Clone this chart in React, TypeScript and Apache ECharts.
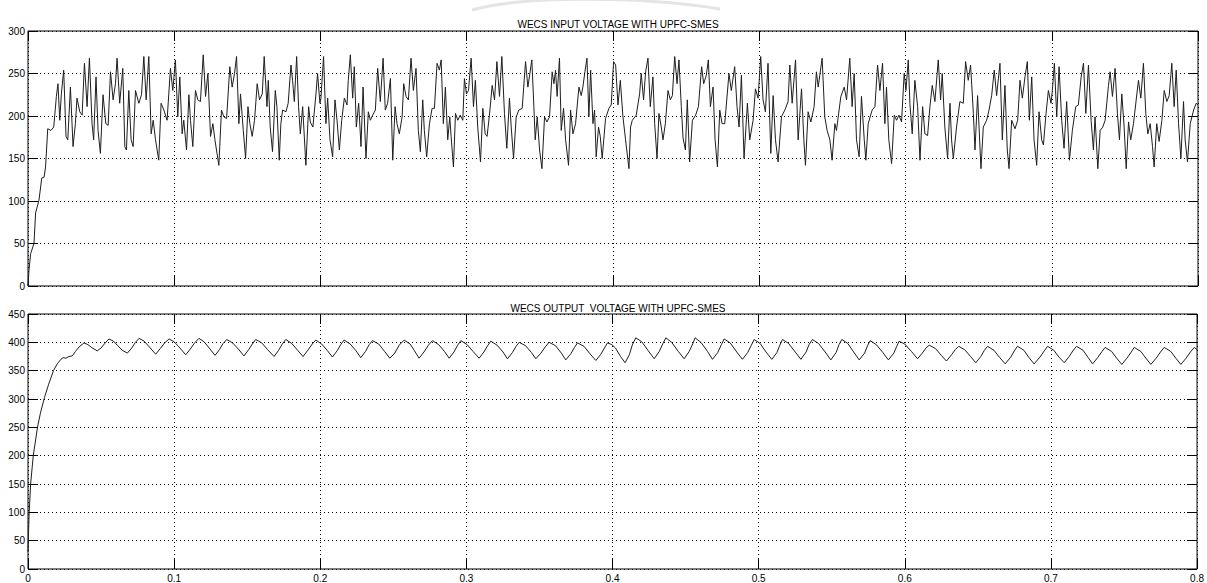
import React, { useEffect, useRef } from "react";
import * as echarts from "echarts";

// WECS input voltage: [time (ms), voltage]
const inputSamples: [number, number][] = [
  [0,0],[0.7,19],[1.8,38],[4.1,50],[5.2,86],[7.5,101],[9.4,127],[11.0,128],[12.0,140],[13.5,185],[15.7,183],[17.6,187],[19.4,223],[20.5,238],[21.7,195],[22.8,226],[24.4,254],[26.0,176],[27.2,172],[29.0,234],[30.8,164],[32.4,191],[33.5,221],[35.4,205],[37.0,201],[38.6,262],[40.4,211],[42.0,268],[43.8,191],[44.9,172],[46.5,246],[47.9,183],[49.5,156],[51.3,225],[53.2,191],[54.8,189],[56.4,252],[58.2,219],[59.8,238],[60.9,268],[62.7,215],[64.8,256],[66.2,164],[67.3,160],[68.9,230],[70.5,172],[71.9,164],[73.5,230],[75.8,215],[77.6,225],[79.2,270],[80.8,219],[82.6,270],[84.2,179],[85.6,195],[87.2,172],[89.4,148],[91.0,215],[92.9,207],[95.1,195],[97.4,256],[99.0,230],[100.8,266],[102.4,199],[103.8,246],[105.4,179],[106.5,195],[108.4,160],[110.0,225],[111.1,195],[112.7,164],[114.5,230],[116.1,219],[117.9,217],[119.8,272],[121.4,223],[123.0,250],[124.8,176],[126.4,191],[127.8,172],[130.5,142],[132.3,207],[133.9,199],[135.8,197],[138.0,258],[139.6,234],[141.2,250],[142.6,270],[144.2,191],[145.3,226],[147.2,183],[148.8,150],[150.4,211],[151.7,191],[153.3,176],[154.9,195],[156.7,238],[158.3,219],[160.2,226],
  [161.5,270],[163.4,211],[164.3,242],[165.6,187],[167.2,158],[169.1,230],[170.2,211],[171.8,148],[172.9,191],[174.1,207],[176.4,205],[177.9,215],[179.8,260],[180.9,242],[182.1,217],[183.7,270],[185.0,211],[186.2,179],[187.8,211],[190.0,142],[191.9,211],[193.0,193],[194.8,187],[196.9,226],[198.0,250],[199.6,215],[200.3,221],[202.1,270],[203.7,191],[204.9,221],[206.5,172],[208.3,152],[209.9,219],[211.3,195],[212.9,160],[214.5,195],[216.3,221],[218.1,213],[219.0,242],[220.4,272],[222.0,221],[223.1,258],[224.5,187],[226.1,215],[227.7,164],[229.1,234],[231.1,150],[232.7,205],[234.1,195],[235.7,201],[237.5,207],[239.1,256],[240.9,217],[242.8,268],[244.3,207],[245.9,215],[247.8,244],[249.4,148],[251.0,211],[252.3,191],[253.9,179],[255.8,199],[256.9,238],[258.5,223],[260.1,219],[261.9,268],[263.5,230],[265.3,256],[266.9,183],[268.3,158],[269.9,219],[271.0,183],[272.6,152],[274.5,191],[276.3,209],[277.9,209],[279.7,262],[281.3,254],[282.5,266],[284.0,191],[285.4,234],[287.0,172],[288.4,199],[289.3,176],[290.9,140],[292.3,203],[293.9,195],[295.5,201],[297.3,195],[298.4,244],[299.8,226],[301.2,230],[303.0,268],[304.6,211],[305.9,242],[307.5,187],[309.4,146],[311.0,209],[312.6,179],[313.9,176],[315.5,201],[317.4,236],[319.0,219],[320.6,264],[322.4,223],[324.0,270],[325.8,203],
  [327.4,162],[329.2,221],[330.4,187],[332.0,150],[333.8,199],[335.6,207],[337.9,209],[340.2,264],[341.8,234],[344.5,266],[345.9,211],[346.8,172],[348.2,199],[349.8,160],[351.4,138],[353.2,199],[354.8,193],[356.6,199],[358.4,252],[359.6,238],[360.7,254],[361.8,223],[363.4,268],[364.6,183],[366.2,209],[367.6,172],[369.6,142],[371.0,207],[372.6,179],[374.4,191],[376.7,234],[378.3,224],[379.4,234],[380.8,252],[382.2,268],[383.5,199],[384.7,254],[386.3,191],[387.4,207],[388.5,152],[390.1,187],[391.3,176],[392.6,150],[394.9,197],[397.2,209],[398.8,213],[400.4,264],[401.8,260],[403.4,213],[405.0,242],[406.8,199],[408.6,172],[410.9,138],[412.0,187],[413.2,195],[415.9,201],[418.2,226],[419.3,250],[420.9,219],[422.3,252],[423.9,268],[425.5,211],[427.3,246],[428.5,191],[430.1,150],[431.4,203],[433.0,187],[434.2,172],[435.8,191],[437.6,230],[439.2,219],[440.6,224],[442.2,270],[443.8,238],[445.1,266],[446.7,211],[447.9,174],[449.5,160],[450.8,219],[452.4,146],[454.3,195],[456.5,201],[458.4,211],[460.6,258],[462.0,238],[463.8,248],[465.2,266],[466.6,211],[468.4,234],[469.8,172],[471.4,140],[473.0,207],[474.6,191],[476.4,191],[479.3,250],[480.9,230],[483.2,258],[484.8,211],[486.2,187],
  [487.8,248],[489.6,150],[491.9,215],[493.5,172],[495.8,195],[497.4,232],[499.2,221],[501.0,270],[502.6,219],[504.2,205],[506.0,262],[507.9,156],[509.5,224],[511.1,172],[512.9,146],[515.2,199],[517.5,207],[519.7,217],[520.9,260],[522.5,215],[524.8,266],[526.6,172],[528.9,232],[530.5,172],[531.6,142],[533.4,205],[535.3,193],[537.5,211],[539.1,252],[540.3,234],[541.4,248],[543.0,268],[544.8,199],[546.4,183],[548.3,172],[549.8,148],[551.7,191],[552.8,183],[555.8,223],[558.1,234],[559.7,219],[561.9,268],[563.5,211],[564.9,250],[566.5,172],[568.3,152],[569.9,223],[571.8,172],[572.9,148],[574.5,191],[577.2,207],[579.1,211],[580.9,260],[582.5,230],[584.3,262],[585.9,191],[587.0,234],[588.6,172],[590.5,144],[592.3,201],[593.9,195],[595.5,201],[597.3,193],[599.1,250],[600.3,230],[601.9,266],[603.0,215],[604.6,179],[606.4,242],[608.3,211],[609.9,148],[611.7,211],[613.3,179],[615.1,177],[616.7,211],[618.3,236],[620.1,217],[622.4,266],[624.0,219],[625.1,250],[626.9,187],[628.8,150],[630.4,215],[631.5,172],[632.7,150],[634.9,187],[637.2,217],[639.5,215],[641.1,264],[642.9,242],[644.5,260],[646.4,203],
  [647.5,160],[649.3,224],[651.6,138],[653.2,187],[655.5,195],[657.1,207],[658.9,224],[660.7,254],[662.3,224],[664.6,262],[666.2,172],[668.0,236],[669.6,160],[670.8,138],[672.6,195],[674.9,185],[676.7,195],[678.3,242],[679.9,221],[681.7,246],[683.3,264],[684.7,195],[686.3,246],[687.9,172],[689.7,142],[691.3,205],[693.1,172],[694.3,166],[696.1,203],[697.7,230],[699.5,215],[700.4,230],[701.8,262],[703.4,199],[705.0,258],[706.8,195],[708.4,162],[710.2,217],[712.1,148],[714.1,183],[716.4,211],[718.2,213],[720.1,246],[721.7,262],[723.3,203],[725.1,260],[726.9,195],[728.5,160],[729.6,199],[731.5,138],[733.1,183],[734.9,187],[736.5,195],[738.8,236],[739.9,252],[741.5,223],[743.3,256],[744.9,203],[746.3,172],[747.9,226],[749.5,187],[750.9,138],[752.5,193],[754.0,172],[755.9,191],[758.2,226],[759.3,242],[760.9,221],[762.7,262],[764.3,203],[765.7,179],[767.3,191],[768.9,164],[770.0,140],[771.8,191],[773.4,170],[775.3,195],[776.9,230],[778.7,217],[780.3,224],[782.1,262],[783.7,211],[785.1,254],[786.7,191],[788.3,150],[790.1,217],[791.2,172],[792.8,146],[794.7,191],[797.0,207],[798.8,215],[800,213]
];

// WECS output voltage: [time (ms), voltage]
const outputSamples: [number, number][] = [
  [0,30],[0.3,60],[0.8,100],[1.8,150],[3.6,200],[6.5,250],[8.5,275],[11.3,303],[14,325],[17.4,350],[20,362],[22.5,370],[24,373],[26,372],[28,375],[30.3,376],[32.5,384],[35,392],[38.3,399],[41,396],[44,390],[47.4,385],[50,390],[52.5,398],[55.4,406],[58.5,402],[61.5,394],[64.5,386],[68.0,381],[71,390],[73.5,400],[76.0,407],[79.5,402],[83,392],[87.4,379],[90.5,389],[93.5,399],[96.5,406],[100,401],[104,390],[107.9,378],[111,388],[114,399],[117.0,407],[120.5,401],[124,390],[128.0,377],[131,387],[133.5,398],[136.0,405],[140,399],[144,388],[147.8,376],[151,387],[153.5,397],[155.8,405],[160,399],[164,387],[168.4,375],[171.5,386],[174,397],[176.4,405],[180.5,398],[184.5,386],[188.2,375],[191.5,386],[194.5,397],[196.9,404],[201,397],[205,385],[208.3,374],[211.5,385],[214,396],[216.3,404],[220.5,397],[224.5,385],[227.7,373],[231,384],[233.5,396],[235.7,403],[240,397],[244,384],[247.6,372],
  [251,381],[254,395],[257.4,404],[261.5,397],[264.5,385],[267.6,372],[271,383],[274,395],[276.8,403],[281,396],[285,384],[288.2,372],[291.5,383],[294,395],[296.2,403],[300.5,396],[304.5,384],[308.7,372],[312,383],[314.5,394],[316.7,402],[321,395],[325,383],[328.1,371],[331.5,382],[334,393],[336.1,400],[340.5,394],[344.5,382],[347.5,371],[351,381],[354,392],[356.6,400],[361,394],[365,381],[368.0,369],[371.5,380],[374,391],[376.0,399],[380.5,393],[384.5,380],[388.6,368],[392,379],[394.5,390],[396.5,399],[399.5,396],[402,390],[405.5,375],[408.6,364],[411.5,378],[413.5,395],[415.9,408],[420,401],[424.5,385],[428.5,371],[432,384],[434.5,398],[436.5,408],[440.5,400],[445,384],[449.0,371],[452.5,384],[455,398],[456.5,408],[460.5,400],[465,384],[468.4,370],[472,382],[474.5,396],[476.4,406],[480.5,399],[485,383],[488.9,370],[492.5,382],[495,395],[496.9,405],[501,398],[505,383],[509.0,370],[512.5,382],[514.5,395],[516.3,405],[520.5,398],[525,383],[528.9,370],
  [532.5,383],[534.5,396],[536.8,405],[541,398],[545.5,383],[549.4,369],[553,382],[555,396],[556.9,405],[561,398],[565,383],[568.8,369],[572.5,381],[574.5,394],[576.3,403],[580.5,396],[585,382],[588.8,369],[592.5,381],[594.5,393],[596.1,402],[600,397],[604.5,384],[608.7,371],[612,381],[614.5,390],[616.7,395],[621,389],[625,377],[628.5,367],[632,378],[634.5,387],[636.8,393],[641,387],[645,375],[648.6,364],[652,375],[654.5,386],[656.6,393],[661,386],[665,373],[668.7,362],[672.5,374],[675,385],[677.1,393],[681.5,386],[685,373],[688.5,362],[692.5,374],[695.5,385],[697.7,393],[702,386],[705.5,374],[709.1,364],[712.5,375],[715,385],[717.5,393],[722,386],[725.5,373],[728.5,362],[732,373],[735,384],[737.1,391],[741.5,384],[745,372],[748.5,361],[752,372],[755,383],[757.0,391],[761.5,384],[765,372],[768.4,361],[772,372],[775,383],[777.5,391],[782,384],[785.5,372],[788.9,361],[792.5,372],[795.5,383],[798.1,391],[800,387]
];

const titles = ["WECS INPUT VOLTAGE WITH UPFC-SMES", "WECS OUTPUT  VOLTAGE WITH UPFC-SMES"];
const timeRange = { min: 0, max: 0.8, step: 0.1 };
const inputRange = { min: 0, max: 300, step: 50 };
const outputRange = { min: 0, max: 450, step: 50 };

const FONT = "'Liberation Sans Narrow', 'Arial Narrow', 'Liberation Sans', Arial, sans-serif";

export default function App() {
  const ref = useRef<HTMLDivElement>(null);

  useEffect(() => {
    if (!ref.current) return;
    const chart = echarts.init(ref.current, undefined, { renderer: "svg" });

    const toSeconds = (arr: [number, number][]) => arr.map(([t, v]) => [t / 1000, v]);

    const split = { show: true, lineStyle: { color: "#000", width: 1, type: [1, 3] as any } };
    const tick = { show: true, inside: true, length: 10, lineStyle: { color: "#000", width: 1 } };
    const label = { color: "#000", fontSize: 10, fontFamily: FONT };

    const xAxisFor = (gridIndex: number, position: "top" | "bottom", withLabels: boolean, withSplit: boolean) => ({
      gridIndex,
      type: "value",
      position,
      min: timeRange.min,
      max: timeRange.max,
      interval: timeRange.step,
      axisLine: { show: false, onZero: false },
      axisTick: tick,
      axisLabel: withLabels ? { ...label, margin: 4, showMinLabel: true, showMaxLabel: true } : { show: false },
      splitLine: withSplit ? split : { show: false },
    });
    const yAxisFor = (gridIndex: number, position: "left" | "right", r: { min: number; max: number; step: number }, withLabels: boolean, withSplit: boolean) => ({
      gridIndex,
      type: "value",
      position,
      min: r.min,
      max: r.max,
      interval: r.step,
      axisLine: { show: false, onZero: false },
      axisTick: tick,
      axisLabel: withLabels ? { ...label, margin: 3 } : { show: false },
      splitLine: withSplit ? split : { show: false },
    });

    chart.setOption({
      animation: false,
      backgroundColor: "#fff",
      title: [
        { text: titles[0], left: 613, top: 14, textAlign: "center", textStyle: { fontSize: 10, fontWeight: "normal", color: "#000", fontFamily: FONT } },
        { text: titles[1], left: 613, top: 298, textAlign: "center", textStyle: { fontSize: 10, fontWeight: "normal", color: "#000", fontFamily: FONT } },
      ],
      graphic: [
        {
          type: "bezierCurve",
          silent: true,
          z: -1,
          shape: { x1: 472, y1: 10, x2: 720, y2: 9, cpx1: 520, cpy1: -4, cpx2: 640, cpy2: -4 },
          style: { stroke: "#e4e4e4", lineWidth: 3, fill: null },
        },
      ],
      grid: [
        { left: 28, right: 9, top: 31, height: 255, show: true, borderColor: "#000", borderWidth: 1, backgroundColor: "#fff" },
        { left: 28, right: 9, top: 314, height: 255, show: true, borderColor: "#000", borderWidth: 1, backgroundColor: "#fff" },
      ],
      xAxis: [
        xAxisFor(0, "bottom", false, true),
        xAxisFor(0, "top", false, false),
        xAxisFor(1, "bottom", true, true),
        xAxisFor(1, "top", false, false),
      ],
      yAxis: [
        yAxisFor(0, "left", inputRange, true, true),
        yAxisFor(0, "right", inputRange, false, false),
        yAxisFor(1, "left", outputRange, true, true),
        yAxisFor(1, "right", outputRange, false, false),
      ],
      series: [
        {
          type: "line",
          xAxisIndex: 0,
          yAxisIndex: 0,
          data: toSeconds(inputSamples),
          showSymbol: false,
          silent: true,
          lineStyle: { color: "#1e1e1e", width: 1 },
        },
        {
          type: "line",
          xAxisIndex: 2,
          yAxisIndex: 2,
          data: toSeconds(outputSamples),
          showSymbol: false,
          silent: true,
          lineStyle: { color: "#1e1e1e", width: 1 },
        },
      ],
    });

    return () => chart.dispose();
  }, []);

  return <div ref={ref} style={{ position: "fixed", left: 0, top: 0, width: 1207, height: 583, background: "#fff" }} />;
}
